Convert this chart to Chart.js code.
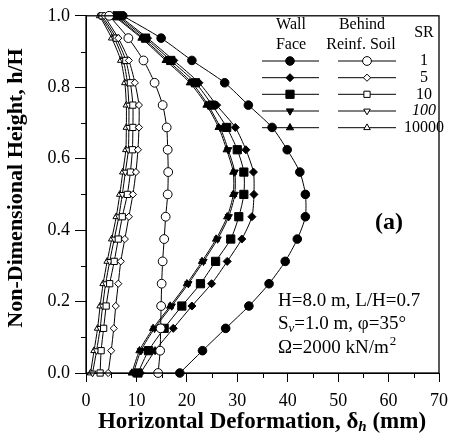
<!DOCTYPE html>
<html>
<head>
<meta charset="utf-8">
<script src="https://cdn.jsdelivr.net/npm/chart.js@4.4.0/dist/chart.umd.min.js"></script>
<style>
html,body{margin:0;padding:0;background:#fff;}
#wrap{width:456px;height:445px;}
</style>
</head>
<body>
<div id="wrap"><canvas id="c" width="456" height="445"></canvas></div>
<script>
// h/H levels (y values shared by every curve)
const hLevels = [0, 0.0625, 0.125, 0.1875, 0.25, 0.3125, 0.375, 0.4375, 0.5, 0.5625, 0.625, 0.6875, 0.75, 0.8125, 0.875, 0.9375, 1.0];

// Wall face horizontal deformation (mm)
const wallSR1     = [18.6, 23.1, 27.7, 32.3, 36.3, 39.5, 41.9, 43.5, 43.5, 42.4, 39.9, 36.9, 32.2, 27.5, 21.0, 14.9, 7.3];
const wallSR5     = [10.8, 13.7, 17.3, 21.0, 24.9, 28.0, 30.9, 32.9, 33.3, 33.2, 31.7, 29.6, 25.9, 22.4, 17.4, 12.2, 6.6];
const wallSR10    = [10.3, 12.4, 15.5, 19.0, 22.7, 25.7, 28.7, 30.3, 31.3, 31.3, 30.0, 27.9, 25.0, 21.7, 16.8, 11.8, 6.2];
const wallSR100   = [9.4, 10.9, 13.6, 17.0, 20.3, 23.3, 26.1, 28.3, 29.5, 29.5, 28.2, 26.6, 24.2, 21.0, 16.2, 11.3, 5.8];
const wallSR10000 = [9.1, 10.6, 13.3, 16.7, 20.0, 23.0, 25.8, 28.0, 29.2, 29.2, 27.9, 26.3, 23.9, 20.6, 15.8, 11.0, 5.5];

// Behind reinforced soil horizontal deformation (mm)
const soilSR1     = [14.3, 14.7, 14.8, 14.9, 15.0, 15.2, 15.5, 15.8, 16.2, 16.3, 16.2, 16.0, 15.2, 13.6, 11.4, 8.4, 4.6];
const soilSR5     = [4.4, 5.0, 5.5, 5.9, 6.4, 6.9, 7.7, 8.5, 9.3, 9.9, 10.3, 10.5, 10.5, 9.7, 8.5, 6.4, 3.6];
const soilSR10    = [2.8, 3.0, 3.5, 4.0, 4.7, 5.6, 6.4, 7.2, 8.2, 8.8, 9.2, 9.3, 9.3, 8.8, 7.9, 6.0, 3.2];
const soilSR100   = [1.3, 2.1, 2.8, 3.3, 3.9, 4.7, 5.6, 6.5, 7.2, 7.8, 8.4, 8.5, 8.5, 8.2, 7.4, 5.6, 2.9];
const soilSR10000 = [0.9, 1.6, 2.3, 2.8, 3.4, 4.2, 5.1, 6.0, 6.7, 7.3, 7.9, 8.0, 8.0, 7.7, 6.9, 5.1, 2.7];

const srLabels = ['1', '5', '10', '100', '10000'];
const xTickValues = [0, 10, 20, 30, 40, 50, 60, 70];
const yTickValues = [0.0, 0.2, 0.4, 0.6, 0.8, 1.0];

const SERIF = '"Liberation Serif", "DejaVu Serif", serif';

const styles = [
  {ps: 'circle',   rot: 0,   rW: 4.3, rS: 4.4},
  {ps: 'rectRot',  rot: 0,   rW: 4.0, rS: 3.6},
  {ps: 'rect',     rot: 0,   rW: 5.8, rS: 4.4},
  {ps: 'triangle', rot: 180, rW: 4.2, rS: 3.8},
  {ps: 'triangle', rot: 0,   rW: 4.2, rS: 3.8}
];
const wallSets = [wallSR1, wallSR5, wallSR10, wallSR100, wallSR10000];
const soilSets = [soilSR1, soilSR5, soilSR10, soilSR100, soilSR10000];

function mk(vals, st, filled, label) {
  return {
    label: label,
    data: vals.map((v, i) => ({x: v, y: hLevels[i]})),
    showLine: true,
    borderColor: '#000',
    borderWidth: 1,
    tension: 0.25,
    pointStyle: st.ps,
    rotation: st.rot,
    pointRotation: st.rot,
    pointRadius: filled ? st.rW : st.rS,
    pointBorderWidth: 1,
    pointBorderColor: '#000',
    pointBackgroundColor: filled ? '#000' : '#fff',
    clip: false
  };
}
const datasets = [];
soilSets.forEach((s, i) => datasets.push(mk(s, styles[i], false, 'Behind SR ' + srLabels[i])));
wallSets.forEach((s, i) => datasets.push(mk(s, styles[i], true, 'Wall SR ' + srLabels[i])));

const decor = {
  id: 'decor',
  afterDraw(chart) {
    const ctx = chart.ctx;
    const a = chart.chartArea;
    const xs = chart.scales.x, ys = chart.scales.y;
    ctx.save();
    ctx.strokeStyle = '#000';
    ctx.fillStyle = '#000';
    // frame
    ctx.lineWidth = 1.3;
    ctx.strokeRect(a.left, a.top, a.right - a.left, a.bottom - a.top);
    // minor ticks
    ctx.lineWidth = 1;
    ctx.beginPath();
    for (let v = 5; v < 70; v += 10) {
      const px = Math.round(xs.getPixelForValue(v)) + 0.5;
      ctx.moveTo(px, a.bottom); ctx.lineTo(px, a.bottom + 5);
    }
    for (let v = 0.1; v < 1; v += 0.2) {
      const py = Math.round(ys.getPixelForValue(v)) + 0.5;
      ctx.moveTo(a.left - 5, py); ctx.lineTo(a.left, py);
    }
    ctx.stroke();

    // y title
    ctx.save();
    ctx.translate(16, 188);
    ctx.rotate(-Math.PI / 2);
    ctx.font = 'bold 22px ' + SERIF;
    ctx.textAlign = 'center';
    ctx.textBaseline = 'middle';
    ctx.fillText('Non-Dimensional Height, h/H', 0, 0);
    ctx.restore();

    // x title with subscript
    const p1 = 'Horizontal Deformation, \u03b4', p2 = 'h', p3 = ' (mm)';
    const fMain = 'bold 23px ' + SERIF, fSub = 'bold italic 15px ' + SERIF;
    ctx.font = fMain; const w1 = ctx.measureText(p1).width, w3 = ctx.measureText(p3).width;
    ctx.font = fSub; const w2 = ctx.measureText(p2).width;
    let x0 = 262 - (w1 + w2 + w3) / 2;
    const by = 428;
    ctx.textAlign = 'left'; ctx.textBaseline = 'alphabetic';
    ctx.font = fMain; ctx.fillText(p1, x0, by);
    ctx.font = fSub; ctx.fillText(p2, x0 + w1, by + 3);
    ctx.font = fMain; ctx.fillText(p3, x0 + w1 + w2, by);

    // legend table
    ctx.font = '16px ' + SERIF;
    ctx.textAlign = 'center';
    ctx.textBaseline = 'alphabetic';
    ctx.fillText('Wall', 291, 29);
    ctx.fillText('Face', 291, 49);
    ctx.fillText('Behind', 362, 29);
    ctx.fillText('Reinf. Soil', 361, 49);
    ctx.fillText('SR', 424, 37);
    const rowY = [61, 77.7, 94.3, 111, 127.7];
    rowY.forEach((yy, i) => {
      const st = styles[i];
      ctx.lineWidth = 1;
      ctx.strokeStyle = '#000';
      ctx.beginPath();
      ctx.moveTo(262, yy); ctx.lineTo(319, yy);
      ctx.moveTo(338, yy); ctx.lineTo(396, yy);
      ctx.stroke();
      ctx.fillStyle = '#000';
      Chart.helpers.drawPoint(ctx, {pointStyle: st.ps, rotation: st.rot, radius: st.rW, borderWidth: 1}, 290, yy);
      ctx.fillStyle = '#fff';
      Chart.helpers.drawPoint(ctx, {pointStyle: st.ps, rotation: st.rot, radius: st.rS, borderWidth: 1}, 367, yy);
      ctx.fillStyle = '#000';
      ctx.font = (srLabels[i] === '100' ? 'italic ' : '') + '16px ' + SERIF;
      ctx.textBaseline = 'middle';
      ctx.fillText(srLabels[i], 424, yy);
    });

    // panel label
    ctx.font = 'bold 24px ' + SERIF;
    ctx.textAlign = 'center';
    ctx.textBaseline = 'middle';
    ctx.fillText('(a)', 389, 223);

    // parameter text
    const fT = '19px ' + SERIF, fTs = 'italic 13px ' + SERIF;
    ctx.textAlign = 'left';
    ctx.textBaseline = 'alphabetic';
    ctx.font = fT;
    ctx.fillText('H=8.0 m, L/H=0.7', 278, 306);
    let tx = 278;
    ctx.fillText('S', tx, 329); tx += ctx.measureText('S').width;
    ctx.font = fTs; ctx.fillText('v', tx, 332); tx += ctx.measureText('v').width;
    ctx.font = fT; ctx.fillText('=1.0 m, \u03c6=35\u00b0', tx, 329);
    tx = 278;
    ctx.fillText('\u03a9=2000 kN/m', tx, 353); tx += ctx.measureText('\u03a9=2000 kN/m').width;
    ctx.font = '13px ' + SERIF; ctx.fillText('2', tx + 1, 345);
    ctx.restore();
  }
};

new Chart(document.getElementById('c'), {
  type: 'scatter',
  data: {datasets: datasets},
  options: {
    responsive: false,
    animation: false,
    devicePixelRatio: 1,
    layout: {padding: {top: 13, right: 11, left: 0, bottom: 0}},
    plugins: {legend: {display: false}, tooltip: {enabled: false}},
    scales: {
      x: {
        type: 'linear', min: 0, max: 70,
        afterBuildTicks(s) { s.ticks = xTickValues.map(v => ({value: v})); },
        afterFit(s) { s.height = 72; },
        ticks: {color: '#000', font: {family: SERIF, size: 18}, padding: 8, maxRotation: 0},
        grid: {display: true, drawOnChartArea: false, drawTicks: true, tickLength: 9, color: '#000'},
        border: {display: true, color: '#000', width: 1}
      },
      y: {
        type: 'linear', min: 0, max: 1,
        afterBuildTicks(s) { s.ticks = yTickValues.map(v => ({value: v})); },
        afterFit(s) { s.width = 86; },
        ticks: {color: '#000', font: {family: SERIF, size: 18}, padding: 5, callback: v => Number(v).toFixed(1)},
        grid: {display: true, drawOnChartArea: false, drawTicks: true, tickLength: 11, color: '#000'},
        border: {display: true, color: '#000', width: 1}
      }
    }
  },
  plugins: [decor]
});
</script>
</body>
</html>
